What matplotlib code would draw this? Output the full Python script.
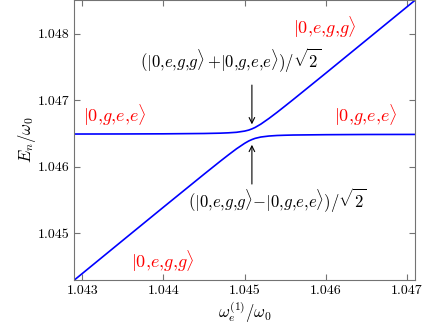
import numpy as np
import matplotlib
matplotlib.use('Agg')
import matplotlib.pyplot as plt

plt.rcParams['font.family'] = 'serif'
plt.rcParams['font.serif'] = ['cmr10', 'DejaVu Serif']
plt.rcParams['mathtext.fontset'] = 'cm'
plt.rcParams['axes.unicode_minus'] = False

# Valores
x = [1.0429, 1.0435, 1.0440, 1.0445, 1.0447, 1.0448, 1.0449, 1.0450, 1.04505,
     1.04509, 1.04513, 1.0452, 1.0453, 1.0454, 1.0455, 1.0456, 1.0460, 1.0465, 1.0471]
E_sup = [1.046493, 1.046494, 1.046496, 1.046501, 1.046506, 1.046511, 1.046519, 1.046537, 1.046552,
         1.046570, 1.046592, 1.046642, 1.046727, 1.046819, 1.046915, 1.047012, 1.047407, 1.047905, 1.048503]
E_inf = [1.044297, 1.044896, 1.045394, 1.045889, 1.046084, 1.046179, 1.046271, 1.046353, 1.046388,
         1.046410, 1.046428, 1.046448, 1.046463, 1.046471, 1.046475, 1.046478, 1.046483, 1.046486, 1.046487]

x_ticks = [1.043, 1.044, 1.045, 1.046, 1.047]
y_ticks = [1.045, 1.046, 1.047, 1.048]

egg = r'|0{,}e{,}g{,}g\rangle'
gee = r'|0{,}g{,}e{,}e\rangle'

fig = plt.figure(figsize=(4.36, 3.27), dpi=100)
ax = fig.add_axes([0.170, 0.1437, 0.782, 0.855])

ax.plot(x, E_sup, color='blue', lw=1.2)
ax.plot(x, E_inf, color='blue', lw=1.2)

ax.set_xlim(1.0429, 1.0471)
ax.set_ylim(1.0443, 1.0485)
ax.set_xticks(x_ticks)
ax.set_yticks(y_ticks)
ax.set_xticklabels([f'{v:.3f}' for v in x_ticks], fontsize=10)
ax.set_yticklabels([f'{v:.3f}' for v in y_ticks], fontsize=10)
ax.tick_params(direction='in', top=True, right=True, length=4, color='0.45')
for s in ax.spines.values():
    s.set_color('0.45')

ax.set_xlabel(r'$\omega_e^{(1)}/\omega_0$', fontsize=12, labelpad=2)
ax.set_ylabel(r'$E_n/\omega_0$', fontsize=12, labelpad=0)

# etiquetas de los estados
ax.text(1.045984, 1.048094, '$' + egg + '$', color='red', fontsize=13, ha='center', va='center')
ax.text(1.043397, 1.046777, '$' + gee + '$', color='red', fontsize=13, ha='center', va='center')
ax.text(1.046486, 1.046777, '$' + gee + '$', color='red', fontsize=13, ha='center', va='center')
ax.text(1.043989, 1.044581, '$' + egg + '$', color='red', fontsize=13, ha='center', va='center')

ax.text(1.044822, 1.0476, '$(' + egg + r'\,{+}' + gee + r')/\sqrt{2}$',
        fontsize=12, ha='center', va='center')
ax.text(1.0454, 1.045504, '$(' + egg + '{-}' + gee + r')/\sqrt{2}$',
        fontsize=12, ha='center', va='center')

ax.annotate('', xy=(1.04509, 1.046597), xytext=(1.04509, 1.04727),
            arrowprops=dict(arrowstyle='->', color='black', lw=0.8))
ax.annotate('', xy=(1.04509, 1.046373), xytext=(1.04509, 1.0457),
            arrowprops=dict(arrowstyle='->', color='black', lw=0.8))

plt.savefig('out.png', dpi=100)
